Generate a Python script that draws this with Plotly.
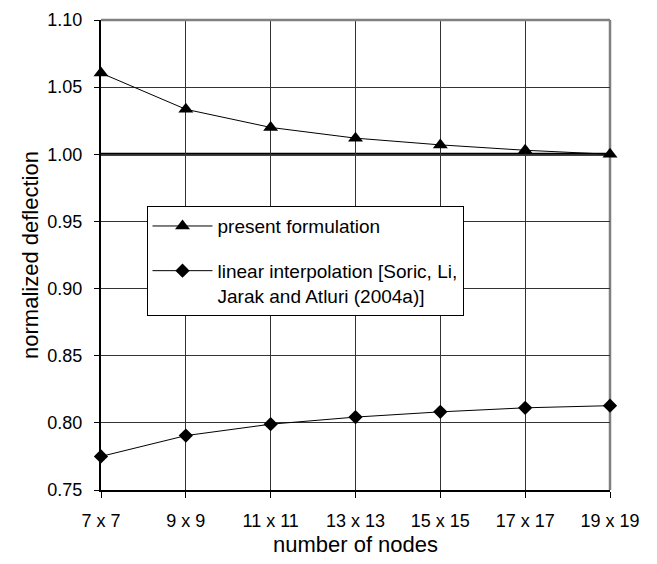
import plotly.graph_objects as go

categories = ["7 x 7", "9 x 9", "11 x 11", "13 x 13", "15 x 15", "17 x 17", "19 x 19"]
present = [1.0605, 1.0335, 1.0200, 1.0120, 1.0070, 1.0030, 1.0000]
linear = [0.7750, 0.7905, 0.7990, 0.8043, 0.8082, 0.8112, 0.8128]
reference_value = 1.00
y_ticks = [0.75, 0.80, 0.85, 0.90, 0.95, 1.00, 1.05, 1.10]

FONT = "Liberation Sans, Arial, sans-serif"

fig = go.Figure()
fig.add_trace(go.Scatter(
    x=categories, y=present, mode="lines+markers",
    name="present formulation", legendgroup="a",
    line=dict(color="black", width=1),
    marker=dict(symbol="triangle-up", size=13, color="black"),
    cliponaxis=False,
))
fig.add_trace(go.Scatter(
    x=categories, y=linear, mode="lines+markers",
    name="linear interpolation [Soric, Li,<br>Jarak and Atluri (2004a)]", legendgroup="b",
    line=dict(color="black", width=1),
    marker=dict(symbol="diamond", size=11, color="black"),
    cliponaxis=False,
))

fig.add_hline(y=reference_value, line=dict(color="black", width=3), layer="below")
# top and right frame (grey)
fig.add_shape(type="line", xref="paper", yref="paper", x0=0, x1=1, y0=1, y1=1,
              line=dict(color="#808080", width=2.5), layer="above")
fig.add_shape(type="line", xref="paper", yref="paper", x0=1, x1=1, y0=0, y1=1,
              line=dict(color="#808080", width=2.5), layer="below")

fig.update_layout(
    width=657, height=564,
    margin=dict(l=101, r=47, t=20, b=74, autoexpand=False),
    paper_bgcolor="white", plot_bgcolor="white",
    font=dict(family=FONT, color="black", size=18),
    showlegend=True,
    legend=dict(
        x=0.0894, y=0.604, xanchor="left", yanchor="top",
        bgcolor="white", bordercolor="black", borderwidth=1,
        font=dict(family=FONT, size=19, color="black"),
        itemwidth=60, tracegroupgap=17, valign="top",
    ),
)
fig.update_xaxes(
    type="category", categoryorder="array", categoryarray=categories,
    range=[0, len(categories) - 1], automargin=False,
    showgrid=True, gridcolor="#333333", gridwidth=1,
    showline=True, linecolor="black", linewidth=2,
    ticks="outside", ticklen=6, tickcolor="black", tickwidth=1,
    ticklabelstandoff=7,
    tickfont=dict(family=FONT, size=18),
    title=dict(text="number of nodes", font=dict(family=FONT, size=22), standoff=7),
    zeroline=False,
)
fig.update_yaxes(
    range=[0.75, 1.10], tickvals=y_ticks, tickformat=".2f", automargin=False,
    showgrid=True, gridcolor="#333333", gridwidth=1,
    showline=True, linecolor="black", linewidth=2,
    ticks="outside", ticklen=5, tickcolor="black", tickwidth=1,
    ticklabelstandoff=8,
    tickfont=dict(family=FONT, size=18),
    title=dict(text="normalized deflection", font=dict(family=FONT, size=22), standoff=3),
    zeroline=False,
)

fig.write_html("out.html")
